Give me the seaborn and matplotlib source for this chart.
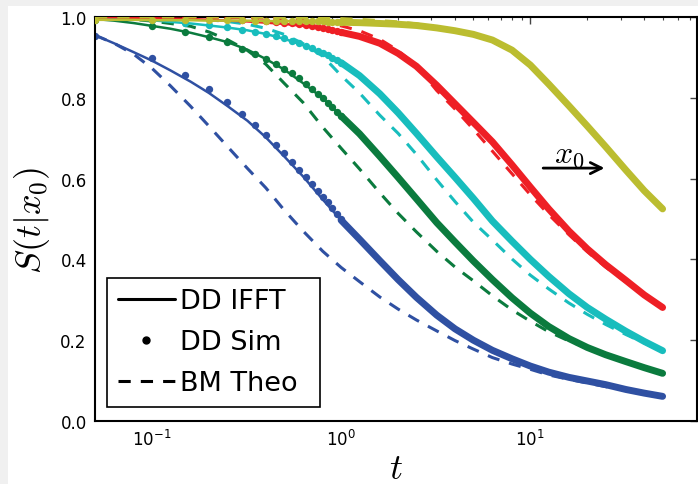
import numpy as np
import pandas as pd
import matplotlib
matplotlib.use('Agg')
import matplotlib.pyplot as plt
import seaborn as sns
from matplotlib.lines import Line2D
from matplotlib.patches import Rectangle
from matplotlib.ticker import FormatStrFormatter

# time grid for the IFFT / BM curves
t_grid = [0.05, 0.063, 0.08, 0.1, 0.125, 0.16, 0.2, 0.25, 0.32, 0.4, 0.5, 0.63, 0.8,
          1, 1.25, 1.6, 2, 2.5, 3.2, 4, 5, 6.3, 8, 10, 12.5, 16, 20, 25, 32, 40, 50]
# simulation sample times where the dots are still separate
t_sim = [0.05, 0.10, 0.15, 0.20, 0.25, 0.30, 0.35, 0.40, 0.45, 0.50,
         0.55, 0.60, 0.65, 0.70, 0.75, 0.80, 0.85, 0.90, 0.95, 1.00]

colors = ['#2f50a2', '#0b7b3e', '#18bdbd', '#ee1f25', '#bbbd30']

ifft_blue = [0.955, 0.935, 0.913, 0.892, 0.868, 0.840, 0.812, 0.780, 0.743, 0.702, 0.655, 0.605, 0.548,
             0.497, 0.450, 0.397, 0.350, 0.306, 0.262, 0.228, 0.200, 0.175, 0.154, 0.136, 0.121, 0.108,
             0.099, 0.090, 0.078, 0.069, 0.061]
ifft_green = [0.995, 0.991, 0.985, 0.978, 0.971, 0.961, 0.950, 0.938, 0.919, 0.896, 0.870, 0.836, 0.799,
              0.755, 0.711, 0.655, 0.603, 0.550, 0.491, 0.443, 0.396, 0.350, 0.305, 0.267, 0.234, 0.204,
              0.182, 0.164, 0.147, 0.132, 0.118]
ifft_cyan = [0.998, 0.996, 0.994, 0.992, 0.988, 0.984, 0.979, 0.974, 0.967, 0.958, 0.946, 0.930, 0.910,
             0.887, 0.855, 0.810, 0.763, 0.712, 0.654, 0.603, 0.551, 0.495, 0.445, 0.400, 0.358, 0.315,
             0.281, 0.252, 0.222, 0.197, 0.174]
ifft_red = [0.999, 0.999, 0.998, 0.997, 0.996, 0.995, 0.993, 0.991, 0.989, 0.986, 0.983, 0.978, 0.970,
            0.962, 0.952, 0.935, 0.910, 0.878, 0.831, 0.785, 0.739, 0.691, 0.634, 0.579, 0.525, 0.470,
            0.426, 0.387, 0.348, 0.312, 0.281]
ifft_olive = [0.993, 0.993, 0.993, 0.992, 0.992, 0.992, 0.991, 0.991, 0.991, 0.990, 0.990, 0.989, 0.988,
              0.987, 0.986, 0.984, 0.982, 0.979, 0.973, 0.966, 0.957, 0.943, 0.918, 0.881, 0.834, 0.780,
              0.730, 0.679, 0.621, 0.570, 0.525]

bm_blue = [0.955, 0.935, 0.908, 0.873, 0.830, 0.779, 0.730, 0.680, 0.625, 0.577, 0.522, 0.470, 0.420,
           0.380, 0.345, 0.307, 0.277, 0.250, 0.223, 0.199, 0.178, 0.157, 0.141, 0.128, 0.114, 0.103,
           0.094, 0.085, 0.076, 0.068, 0.060]
bm_green = [0.999, 0.997, 0.994, 0.990, 0.984, 0.977, 0.963, 0.944, 0.917, 0.883, 0.836, 0.788, 0.727,
            0.675, 0.624, 0.565, 0.514, 0.468, 0.420, 0.381, 0.347, 0.310, 0.275, 0.247, 0.221, 0.198,
            0.181, 0.166, 0.149, 0.133, 0.118]
bm_cyan = [0.999, 0.999, 0.998, 0.998, 0.997, 0.995, 0.993, 0.989, 0.982, 0.972, 0.957, 0.934, 0.903,
           0.855, 0.812, 0.757, 0.712, 0.660, 0.597, 0.543, 0.492, 0.448, 0.401, 0.361, 0.327, 0.292,
           0.264, 0.239, 0.214, 0.193, 0.174]
bm_red = [1.0, 1.0, 1.0, 1.0, 1.0, 1.0, 0.999, 0.999, 0.998, 0.997, 0.995, 0.992, 0.986,
          0.978, 0.966, 0.945, 0.917, 0.879, 0.818, 0.772, 0.722, 0.668, 0.612, 0.560, 0.511, 0.461,
          0.419, 0.381, 0.344, 0.310, 0.280]
bm_olive = [1.0, 1.0, 1.0, 1.0, 1.0, 1.0, 1.0, 1.0, 1.0, 0.999, 0.999, 0.998, 0.997,
            0.996, 0.994, 0.991, 0.988, 0.983, 0.975, 0.966, 0.955, 0.940, 0.914, 0.877, 0.830, 0.776,
            0.726, 0.676, 0.618, 0.568, 0.523]

sim_blue = [0.952, 0.898, 0.856, 0.822, 0.789, 0.760, 0.733, 0.708, 0.684, 0.663,
            0.641, 0.621, 0.603, 0.587, 0.570, 0.555, 0.541, 0.526, 0.512, 0.500]
sim_green = [0.993, 0.977, 0.964, 0.950, 0.937, 0.922, 0.908, 0.896, 0.884, 0.871,
             0.861, 0.848, 0.834, 0.822, 0.810, 0.799, 0.788, 0.777, 0.766, 0.754]
sim_cyan = [0.998, 0.993, 0.985, 0.979, 0.975, 0.969, 0.964, 0.958, 0.953, 0.947,
            0.941, 0.935, 0.929, 0.923, 0.917, 0.911, 0.905, 0.899, 0.893, 0.887]
sim_red = [0.999, 0.998, 0.997, 0.996, 0.995, 0.993, 0.992, 0.990, 0.988, 0.986,
           0.984, 0.982, 0.980, 0.978, 0.976, 0.974, 0.971, 0.969, 0.966, 0.963]
sim_olive = [0.993, 0.993, 0.993, 0.992, 0.992, 0.992, 0.991, 0.991, 0.991, 0.990,
             0.990, 0.990, 0.990, 0.989, 0.989, 0.989, 0.988, 0.988, 0.988, 0.987]

ifft = [ifft_blue, ifft_green, ifft_cyan, ifft_red, ifft_olive]
bm = [bm_blue, bm_green, bm_cyan, bm_red, bm_olive]
sim = [sim_blue, sim_green, sim_cyan, sim_red, sim_olive]

legend_labels = ['DD IFFT', 'DD Sim', 'BM Theo']

sns.set_style('white', {'xtick.direction': 'in', 'ytick.direction': 'in'})
plt.rcParams['font.family'] = ['DejaVu Sans']
plt.rcParams['text.color'] = 'black'
plt.rcParams['axes.labelcolor'] = 'black'
plt.rcParams['xtick.labelcolor'] = 'black'
plt.rcParams['ytick.labelcolor'] = 'black'

fig = plt.figure(figsize=(6.98, 4.85), dpi=100, facecolor='#f0f0f0')
fig.add_artist(Rectangle((8 / 698, 0), 1, 1 - 7 / 485, transform=fig.transFigure,
                         facecolor='white', edgecolor='none', zorder=-5))
ax = fig.add_axes([95 / 698, 63 / 485, 602 / 698, 404 / 485])
ax.set_xscale('log')

# band = where the simulation dots merge into a thick line (t >= 1)
i_band = t_grid.index(1)
for k, c in enumerate(colors):
    z = 2 + k
    sns.lineplot(x=t_grid, y=ifft[k], color=c, lw=1.8, ax=ax, zorder=z)
    sns.scatterplot(x=t_sim, y=sim[k], color=c, s=28, linewidth=0, ax=ax, zorder=z)
    sns.lineplot(x=t_grid[i_band:], y=ifft[k][i_band:], color=c, lw=5, ax=ax,
                 zorder=z, solid_capstyle='round', solid_joinstyle='round')
    sns.lineplot(x=t_grid, y=bm[k], color=c, lw=2.2, ax=ax, zorder=z)
    ax.lines[-1].set_dashes((4, 3.3))

ax.set_xlim(0.05, 76)
ax.set_ylim(0, 1)
ax.set_yticks([0, 0.2, 0.4, 0.6, 0.8, 1.0])
ax.yaxis.set_major_formatter(FormatStrFormatter('%.1f'))
ax.tick_params(which='both', direction='in', top=True, right=True,
               color='#444444', labelcolor='black', labelsize=12, pad=6)
ax.tick_params(which='major', length=5, width=1)
ax.tick_params(which='minor', length=2.5, width=0.8)
for s in ax.spines.values():
    s.set_color('black')
    s.set_linewidth(1.5)

ax.set_xlabel(r'$t$', fontsize=26, math_fontfamily='cm', labelpad=1)
ax.set_ylabel(r'$S(t|x_0)$', fontsize=26, math_fontfamily='cm', labelpad=6)

# x0 arrow
ax.annotate('', xy=(25.5, 0.626), xytext=(11.3, 0.626),
            arrowprops=dict(arrowstyle='->', lw=2, color='black', mutation_scale=20))
ax.text(16.0, 0.663, r'$x_0$', fontsize=23, math_fontfamily='cm', ha='center', va='center')

handles = [Line2D([], [], color='black', lw=2.2),
           Line2D([], [], color='black', marker='o', ms=5, ls='none'),
           Line2D([], [], color='black', lw=2.2, dashes=(4, 3.3))]
leg = ax.legend(handles, legend_labels, loc='lower left',
                bbox_to_anchor=(12 / 602, 14 / 404, 213 / 602, 0.3), mode='expand',
                borderaxespad=0, fontsize=19.5, frameon=True, fancybox=False,
                edgecolor='black', framealpha=1, handlelength=2.1, handletextpad=0.2,
                borderpad=0.4, labelspacing=0.55)
leg.get_frame().set_linewidth(1.2)

fig.savefig('out.png', dpi=100, facecolor=fig.get_facecolor())
